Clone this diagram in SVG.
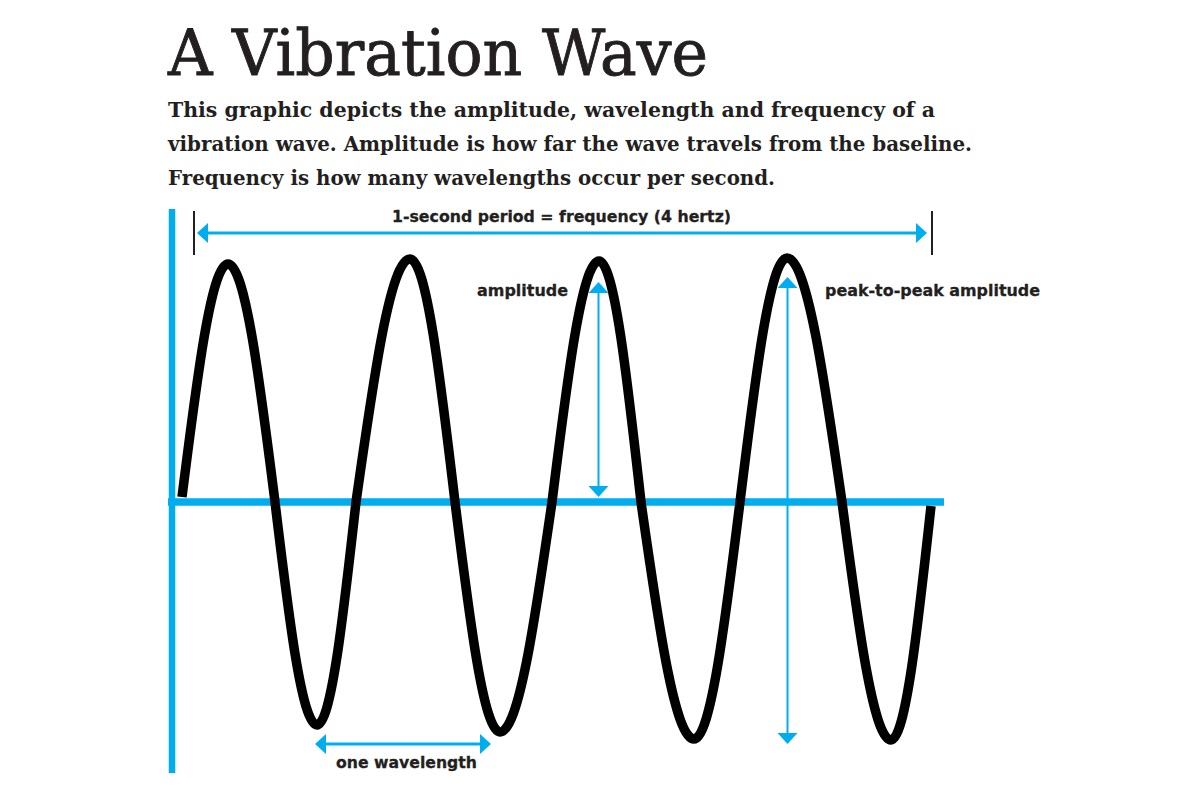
<svg xmlns="http://www.w3.org/2000/svg" width="1200" height="800" viewBox="0 0 1200 800">
  <style>
    .title { font-family: "DejaVu Serif", "Liberation Serif", serif; font-size: 64px; fill: #231f20; stroke: #231f20; stroke-width: 0.9; }
    .body { font-family: "DejaVu Serif", "Liberation Serif", serif; font-weight: bold; font-size: 20px; fill: #231f20; }
    .lbl { font-family: "DejaVu Sans", "Liberation Sans", sans-serif; font-weight: bold; font-size: 16px; fill: #231f20; stroke: #231f20; stroke-width: 0.3; }
    .blue { stroke: #00aeef; fill: none; }
    .tick { stroke: #231f20; stroke-width: 2; }
  </style>
  <defs>
    <marker id="ah" markerUnits="userSpaceOnUse" markerWidth="11" markerHeight="20" viewBox="0 0 11 20" refX="5" refY="10" orient="auto-start-reverse">
      <path d="M0,0 L11,10 L0,20 Z" fill="#00aeef"/>
    </marker>
  </defs>
  <rect width="1200" height="800" fill="#ffffff"/>

  <g id="title">
    <text class="title" x="168" y="75" textLength="540" lengthAdjust="spacingAndGlyphs">A Vibration Wave</text>
  </g>
  <g id="description">
    <text class="body" x="168" y="117" textLength="767" lengthAdjust="spacingAndGlyphs">This graphic depicts the amplitude, wavelength and frequency of a</text>
    <text class="body" x="168" y="151" textLength="804" lengthAdjust="spacingAndGlyphs">vibration wave. Amplitude is how far the wave travels from the baseline.</text>
    <text class="body" x="168" y="185" textLength="607" lengthAdjust="spacingAndGlyphs">Frequency is how many wavelengths occur per second.</text>
  </g>

  <g id="axes">
    <line class="blue" x1="172" y1="209" x2="172" y2="773" stroke-width="6.5"/>
    <line class="blue" x1="168" y1="502" x2="944" y2="502" stroke-width="7.5"/>
  </g>

  <g id="wave">
    <path fill="none" stroke="#000000" stroke-width="9.5" stroke-linecap="butt" stroke-linejoin="round"
      d="M182,497 C197,377.6 211.4,264 228,264
         C245,264 259.7,380.1 275,502
         C288.7,616.2 301.8,725 317,725
         C331.1,725 343.3,616.2 356,502
         C373.6,377.5 390.5,259 410,259
         C426.3,259 440.3,377.5 455,502
         C469.7,619.8 483.7,732 500,732
         C518.8,732 535,619.8 552,502
         C567.3,378.5 582,261 599,261
         C614.2,261 627.3,378.5 641,502
         C658.3,623.4 674.8,739 694,739
         C710.6,739 725,623.4 740,502
         C755.3,377 770,258 787,258
         C806.9,258 824.1,377 842,502
         C858,623.9 873.3,740 891,740
         C905.5,740 918,625.9 931,506"/>
  </g>

  <g id="connectors">
    <line class="tick" x1="194" y1="211" x2="194" y2="255"/>
    <line class="tick" x1="932" y1="211" x2="932" y2="255"/>
    <line class="blue" x1="203" y1="233" x2="921" y2="233" stroke-width="3" marker-start="url(#ah)" marker-end="url(#ah)"/>
    <line class="blue" x1="598.5" y1="288" x2="598.5" y2="491" stroke-width="2" marker-start="url(#ah)" marker-end="url(#ah)"/>
    <line class="blue" x1="787.5" y1="283" x2="787.5" y2="738" stroke-width="2" marker-start="url(#ah)" marker-end="url(#ah)"/>
    <line class="blue" x1="321" y1="744" x2="485" y2="744" stroke-width="3" marker-start="url(#ah)" marker-end="url(#ah)"/>
  </g>

  <g id="labels">
    <text class="lbl" x="392" y="222" textLength="339" lengthAdjust="spacingAndGlyphs">1-second period = frequency (4 hertz)</text>
    <text class="lbl" x="477" y="296" textLength="91" lengthAdjust="spacingAndGlyphs">amplitude</text>
    <text class="lbl" x="825" y="296" textLength="215" lengthAdjust="spacingAndGlyphs">peak-to-peak amplitude</text>
    <text class="lbl" x="336" y="768" textLength="141" lengthAdjust="spacingAndGlyphs">one wavelength</text>
  </g>
</svg>
